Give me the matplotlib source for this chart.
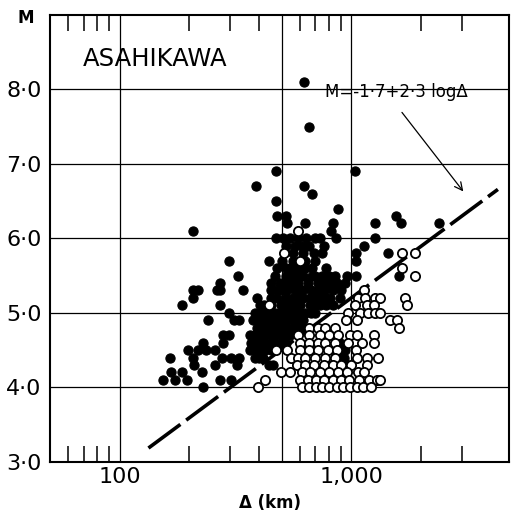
import numpy as np
import matplotlib.pyplot as plt

# epicentral distance (km) per magnitude row
solid_rows = [
    (8.1, [628]),
    (7.5, [660]),
    (6.9, [475, 1040]),
    (6.7, [389, 628]),
    (6.6, [680]),
    (6.5, [475]),
    (6.4, [880]),
    (6.3, [480, 520, 1565]),
    (6.2, [530, 634, 837, 1270, 1645, 2400]),
    (6.1, [207, 820]),
    (6.0, [475, 505, 546, 590, 640, 700, 736, 862, 1270]),
    (5.9, [520, 574, 610, 660, 760, 1140]),
    (5.8, [560, 620, 690, 750, 1050, 1445]),
    (5.7, [297, 440, 500, 560, 600, 634, 700, 1050]),
    (5.6, [480, 520, 550, 574, 600, 634, 680, 780]),
    (5.5, [325, 470, 520, 550, 590, 620, 680, 700, 750, 800, 850, 960, 1050, 1610]),
    (5.4, [270, 450, 490, 530, 560, 590, 650, 720, 760, 800, 840, 870, 940]),
    (5.3, [207, 217, 262, 272, 340, 448, 480, 500, 530, 570, 600, 620, 670, 720, 770, 830, 900]),
    (5.2, [207, 393, 448, 480, 520, 560, 590, 620, 666, 700, 736, 770, 812, 897]),
    (5.1, [185, 272, 405, 420, 448, 495, 520, 546, 580, 603, 666, 700, 736, 780, 830]),
    (5.0, [297, 385, 400, 426, 450, 470, 490, 520, 550, 574, 600, 634, 670, 700]),
    (4.9, [240, 310, 328, 375, 395, 416, 440, 460, 485, 510, 530, 560, 590, 620]),
    (4.8, [393, 410, 436, 460, 480, 505, 530, 560, 590, 620]),
    (4.7, [280, 295, 367, 385, 405, 425, 448, 470, 495, 520, 546]),
    (4.6, [228, 280, 370, 390, 405, 426, 450, 470, 495, 520, 880, 897]),
    (4.5, [198, 217, 235, 259, 367, 385, 405, 425, 448, 470, 920, 943]),
    (4.4, [164, 207, 276, 301, 326, 385, 400, 415, 860, 897, 930]),
    (4.3, [209, 259, 322, 440, 460, 900, 940, 970]),
    (4.2, [166, 185, 226, 890, 930]),
    (4.1, [153, 174, 196, 272, 301]),
    (4.0, [228]),
]

open_rows = [
    (6.1, [590]),
    (5.8, [510, 1650, 1890]),
    (5.7, [600]),
    (5.6, [1650]),
    (5.5, [1890]),
    (5.3, [1130]),
    (5.2, [1070, 1150, 1270, 1335, 1711]),
    (5.1, [443, 1040, 1170, 1250, 1745]),
    (5.0, [970, 1094, 1180, 1270, 1335]),
    (4.9, [950, 1060, 1474, 1570]),
    (4.8, [655, 720, 773, 854, 1600]),
    (4.7, [590, 655, 730, 800, 880, 990, 1060, 1250]),
    (4.6, [603, 655, 720, 773, 854, 970, 1110, 1250]),
    (4.5, [475, 530, 600, 655, 720, 790, 870, 1050]),
    (4.4, [550, 590, 634, 700, 773, 854, 1060, 1170, 1310]),
    (4.3, [580, 634, 690, 760, 830, 900, 1000, 1170]),
    (4.2, [495, 546, 615, 666, 736, 800, 880, 960, 1070, 1140]),
    (4.1, [425, 603, 650, 706, 760, 830, 905, 980, 1080, 1190, 1290, 1335]),
    (4.0, [397, 615, 655, 706, 750, 803, 864, 917, 991, 1062, 1128, 1220]),
]

# M = -1.7 + 2.3 log(delta)
fit_a, fit_b = -1.7, 2.3
fit_range = [133, 4300]

y_ticks = [3, 4, 5, 6, 7, 8]
y_labels = ['3·0', '4·0', '5·0', '6·0', '7·0', '8·0']
x_ticks = [100, 1000]
x_labels = ['100', '1,000']
x_minor = [60, 70, 80, 90, 200, 300, 400, 600, 700, 800, 900, 2000, 3000]
x_grid = [100, 500, 1000]


def flatten(rows):
    d, m = [], []
    for mag, deltas in rows:
        for v in deltas:
            d.append(v)
            m.append(mag)
    return d, m


solid_d, solid_m = flatten(solid_rows)
open_d, open_m = flatten(open_rows)

fig = plt.figure(figsize=(5.22, 5.12), dpi=100)
ax = fig.add_axes([0.096, 0.098, 0.879, 0.873])
ax.set_xscale('log')
ax.set_xlim(50, 4800)
ax.set_ylim(3.0, 9.0)

for g in y_ticks[1:]:
    ax.axhline(g, color='black', lw=0.9, zorder=1)
for g in x_grid:
    ax.axvline(g, color='black', lw=0.9, zorder=1)

# inward tick marks along the top and bottom frame
tick_tr = ax.get_xaxis_transform()
ax.vlines(x_minor, 0, 0.036, transform=tick_tr, color='black', lw=1.1, zorder=1)
ax.vlines(x_minor, 0.964, 1, transform=tick_tr, color='black', lw=1.1, zorder=1)

xs = np.array(fit_range, dtype=float)
ax.plot(xs, fit_a + fit_b * np.log10(xs), color='black', lw=2.6,
        dashes=(11, 2), solid_capstyle='butt', zorder=2)

ax.scatter(solid_d, solid_m, s=44, c='black', edgecolors='black',
           linewidths=0.8, zorder=3)
ax.scatter(open_d, open_m, s=44, facecolors='white', edgecolors='black',
           linewidths=1.3, zorder=4)

ax.text(69, 8.41, 'ASAHIKAWA', fontsize=17.5, ha='left', va='center')
ax.text(773, 7.97, 'M=-1·7+2·3 log\u0394', fontsize=12, ha='left', va='center')
ax.annotate('', xy=(3100, 6.6), xytext=(1628, 7.72),
            arrowprops=dict(arrowstyle='->', color='black', lw=0.9,
                            mutation_scale=14))

ax.set_yticks(y_ticks)
ax.set_yticklabels(y_labels, fontsize=16)
ax.set_xticks(x_ticks)
ax.set_xticklabels(x_labels, fontsize=16)
ax.set_xticks([], minor=True)
ax.tick_params(axis='y', length=0, pad=6)
ax.tick_params(axis='x', which='major', length=0, pad=4)

for sp in ax.spines.values():
    sp.set_linewidth(1.5)

fig.text(0.05, 0.965, 'M', fontsize=12, fontweight='bold', ha='center', va='center')
fig.text(0.517, 0.018, '\u0394 (km)', fontsize=12, fontweight='bold', ha='center', va='center')

plt.savefig('out.png')
